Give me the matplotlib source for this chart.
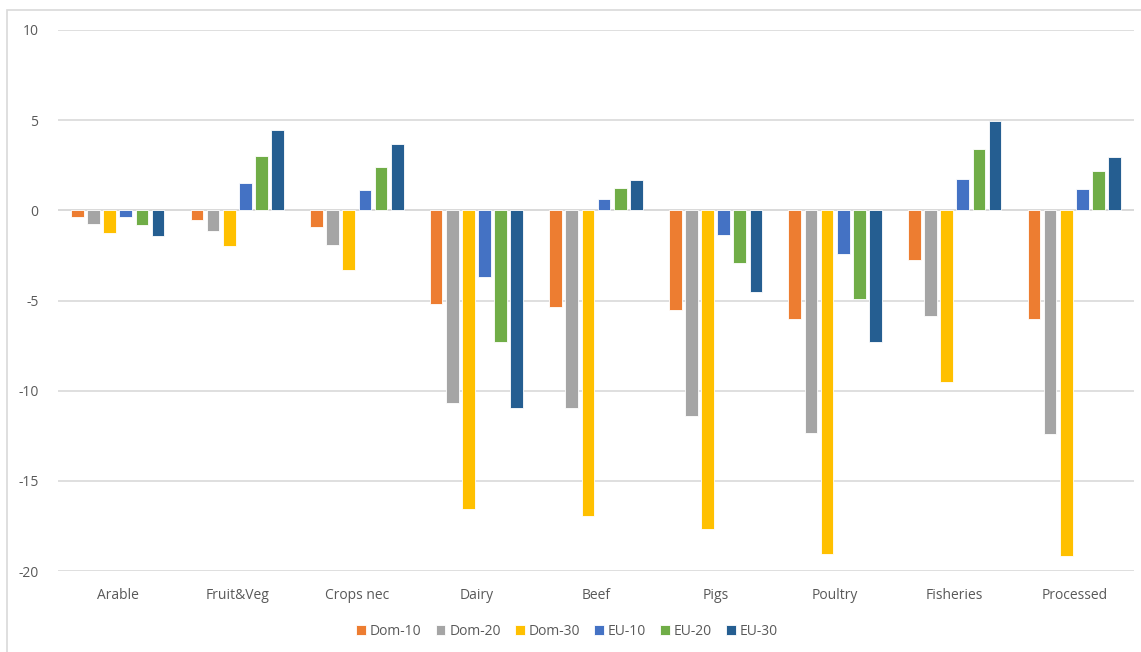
import matplotlib.pyplot as plt
import numpy as np
from matplotlib.patches import Rectangle

# categories and scenario results (% change)
categories = ['Arable', 'Fruit&Veg', 'Crops nec', 'Dairy', 'Beef',
              'Pigs', 'Poultry', 'Fisheries', 'Processed']
series_names = ['Dom-10', 'Dom-20', 'Dom-30', 'EU-10', 'EU-20', 'EU-30']

dom_10 = [-0.37, -0.52, -0.90, -5.22, -5.34, -5.54, -6.04, -2.75, -6.04]
dom_20 = [-0.76, -1.15, -1.94, -10.71, -10.97, -11.41, -12.35, -5.87, -12.41]
dom_30 = [-1.26, -1.96, -3.30, -16.55, -16.95, -17.65, -19.04, -9.51, -19.15]
eu_10 = [-0.36, 1.50, 1.15, -3.67, 0.63, -1.39, -2.44, 1.72, 1.18]
eu_20 = [-0.81, 3.00, 2.41, -7.31, 1.24, -2.90, -4.90, 3.38, 2.18]
eu_30 = [-1.41, 4.44, 3.67, -10.97, 1.68, -4.54, -7.28, 4.93, 2.97]

colors = ['#ED7D31', '#A5A5A5', '#FFC000', '#4472C4', '#70AD47', '#255E91']

plt.rcParams['font.family'] = ['Open Sans', 'DejaVu Sans']
plt.rcParams['axes.unicode_minus'] = False
text_col = '#595959'

fig = plt.figure(figsize=(11.41, 6.52), dpi=100)
ax = fig.add_axes([0.0508, 0.1242, 0.9431, 0.8298])

x = np.arange(len(categories))
pitch = 0.135
width = 0.107
all_series = [dom_10, dom_20, dom_30, eu_10, eu_20, eu_30]
for i, vals in enumerate(all_series):
    offs = (i - 2.5) * pitch
    ax.bar(x + offs, vals, width, color=colors[i], label=series_names[i],
           edgecolor='white', linewidth=0.6, zorder=3)

ax.set_xlim(-0.5, len(categories) - 0.5)
ax.set_ylim(-20, 10)
ax.set_yticks(np.arange(-20, 11, 5))
ax.yaxis.grid(True, color='#d9d9d9', linewidth=1.2, zorder=0)
ax.axhline(0, color='#d9d9d9', linewidth=1.2, zorder=1)
for s in ax.spines.values():
    s.set_visible(False)
ax.tick_params(axis='both', length=0, colors=text_col, labelsize=10)
ax.tick_params(axis='y', pad=14)
ax.tick_params(axis='x', pad=12)
ax.set_xticks(x)
ax.set_xticklabels(categories)

leg = fig.legend(loc='center', bbox_to_anchor=(0.497, 0.032), ncol=6,
                 frameon=False, fontsize=10, handlelength=0.7, handleheight=0.7,
                 handletextpad=0.3, columnspacing=1.0)
for t in leg.get_texts():
    t.set_color(text_col)

# chart area border
fig.patches.append(Rectangle((7 / 1141, -0.05), 1.2, 1 - 9.5 / 652 + 0.05,
                             transform=fig.transFigure, fill=False,
                             edgecolor='#d9d9d9', linewidth=1.2))

fig.savefig('out.png', dpi=100)
